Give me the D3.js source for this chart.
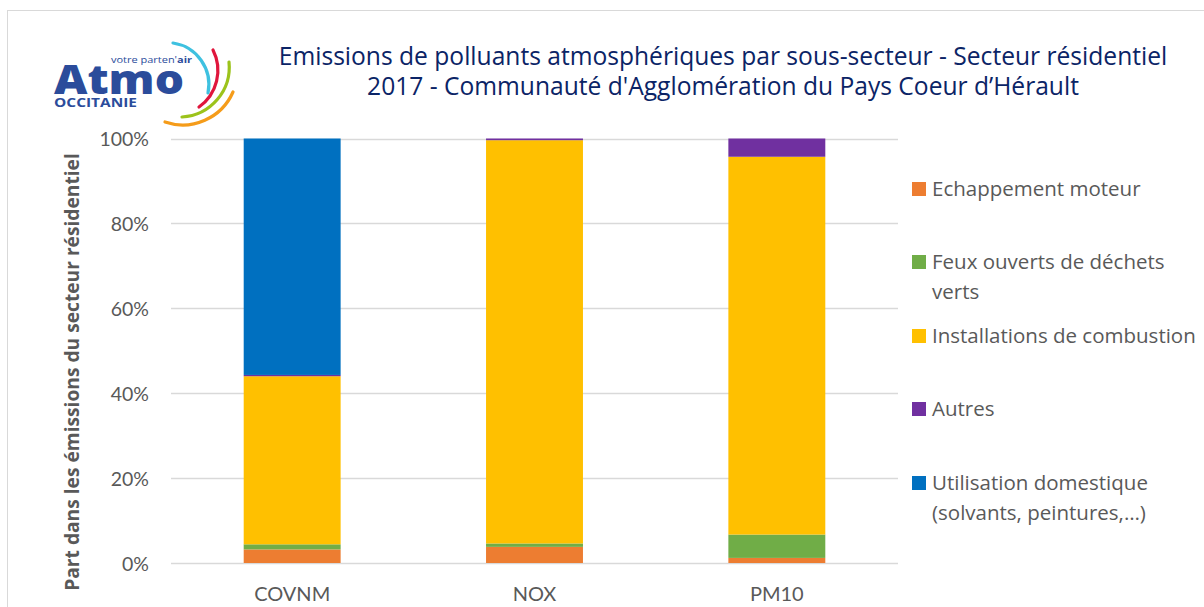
<!DOCTYPE html>
<html><head><meta charset="utf-8">
<script src="https://cdn.jsdelivr.net/npm/d3@7"></script>
<style>
html,body{margin:0;padding:0;background:#fff;}
svg{display:block;}
text{font-family:"Open Sans",sans-serif;}
</style></head>
<body>
<svg id="chart" width="1204" height="607"></svg>
<script>
// ---- data ----
const categories = ["COVNM", "NOX", "PM10"];
const seriesNames = ["Echappement moteur", "Feux ouverts de déchets verts", "Installations de combustion", "Autres", "Utilisation domestique (solvants, peintures,…)"];
const echappement = [3.2, 3.8, 1.2];
const feux = [1.2, 0.8, 5.5];
const installations = [39.6, 95.0, 89.0];
const autres = [0.3, 0.4, 4.3];
const utilisation = [55.7, 0.0, 0.0];
const yTicks = [0, 20, 40, 60, 80, 100];
const legendLines = [["Echappement moteur"], ["Feux ouverts de déchets", "verts"], ["Installations de combustion"], ["Autres"], ["Utilisation domestique", "(solvants, peintures,…)"]];
const colors = ["#ED7D31", "#70AD47", "#FFC000", "#7030A0", "#0070C0"];
const titleLines = ["Emissions de polluants atmosphériques par sous-secteur - Secteur résidentiel", "2017 - Communauté d'Agglomération du Pays Coeur d’Hérault"];
const yTitle = "Part dans les émissions du secteur résidentiel";

const svg = d3.select("#chart");

// frame
svg.append("rect").attr("x", 7.5).attr("y", 10.5).attr("width", 1220).attr("height", 620)
  .attr("fill", "none").attr("stroke", "#d9d9d9").attr("stroke-width", 1);

const seriesArrays = [echappement, feux, installations, autres, utilisation];
const table = categories.map((c, i) => {
  const o = {cat: c};
  seriesNames.forEach((s, k) => o[s] = seriesArrays[k][i]);
  return o;
});
const stacked = d3.stack().keys(seriesNames)(table);

const x = d3.scaleBand().domain(categories).range([171, 898]).paddingInner(0.6).paddingOuter(0.3);
const y = d3.scaleLinear().domain([0, 100]).range([563, 138.5]);

// gridlines
svg.append("g").selectAll("line").data(yTicks).join("line")
  .attr("x1", 171).attr("x2", 898)
  .attr("y1", d => Math.round(y(d)) + 0.5).attr("y2", d => Math.round(y(d)) + 0.5)
  .attr("stroke", "#d9d9d9").attr("stroke-width", 1.5);

// y axis labels
const yAxis = d3.axisLeft(y).tickValues(yTicks).tickFormat(d => d + "%").tickSize(0).tickPadding(0);
const ya = svg.append("g").attr("transform", "translate(149,0)").call(yAxis);
ya.select(".domain").remove();
ya.selectAll("text").attr("fill", "#595959").style("font-size", "19.5px").style("font-family", "Lato, sans-serif").attr("dy", "0.36em");

// bars
svg.append("g").selectAll("g").data(stacked).join("g")
  .attr("fill", (d, i) => colors[i])
  .selectAll("rect").data(d => d).join("rect")
  .attr("x", d => x(d.data.cat))
  .attr("width", x.bandwidth())
  .attr("y", d => y(d[1]))
  .attr("height", d => Math.max(0, y(d[0]) - y(d[1])));

// x axis
const xAxis = d3.axisBottom(x).tickSize(0).tickPadding(0);
const xa = svg.append("g").attr("transform", "translate(0,563)").call(xAxis);
xa.select(".domain").remove();
xa.selectAll("text").attr("fill", "#595959").style("font-size", "20px").style("font-family", "Lato, sans-serif").attr("y", 38).attr("dy", 0);

// y title
svg.append("text").attr("transform", "translate(79,372) rotate(-90)")
  .attr("text-anchor", "middle").attr("fill", "#595959")
  .style("font-size", "19.2px").style("font-weight", "bold").text(yTitle);

// title
svg.append("g").selectAll("text").data(titleLines).join("text")
  .attr("x", 723).attr("y", (d, i) => 65 + i * 30)
  .attr("text-anchor", "middle").attr("fill", "#0b2466")
  .style("font-size", "24.6px").text(d => d);

// legend
const legendY = [189, 262, 336, 409, 483];
const lg = svg.append("g").selectAll("g").data(seriesNames).join("g")
  .attr("transform", (d, i) => `translate(912,${legendY[i]})`);
lg.append("rect").attr("x", 0).attr("y", -7).attr("width", 14).attr("height", 14).attr("fill", (d, i) => colors[i]);
lg.each(function(d, i) {
  const t = d3.select(this).append("text").attr("x", 20).attr("y", 7).attr("fill", "#595959").style("font-size", "20.5px");
  legendLines[i].forEach((ln, j) => t.append("tspan").attr("x", 20).attr("dy", j === 0 ? 0 : 30).text(ln));
});

// logo
const logo = svg.append("g");
const logoArcs = [
  {d: "M173,43 A42,42 0 0 1 208,93", c: "#3ec1e0"},
  {d: "M213,50 A45,45 0 0 1 199,107", c: "#e0163c"},
  {d: "M229,62 A50,50 0 0 1 182,117", c: "#9cc31b"},
  {d: "M233,92 A55,55 0 0 1 165,122", c: "#f59c1a"}
];
logoArcs.forEach(a => {
  logo.append("path").attr("d", a.d).attr("fill", "none").attr("stroke", a.c)
    .attr("stroke-width", 3.2).attr("stroke-linecap", "round");
});
logo.append("text").attr("x", 54).attr("y", 94).attr("fill", "#2b4c9b")
  .attr("textLength", 130).attr("lengthAdjust", "spacingAndGlyphs")
  .style("font-size", "40px").style("font-weight", "800").text("Atmo");
logo.append("text").attr("x", 54).attr("y", 107).attr("fill", "#2b4c9b")
  .attr("textLength", 83).attr("lengthAdjust", "spacingAndGlyphs")
  .style("font-size", "11.5px").style("font-weight", "bold").text("OCCITANIE");
const vt = logo.append("text").attr("x", 111).attr("y", 63).attr("fill", "#2b4c9b")
  .attr("textLength", 81).attr("lengthAdjust", "spacingAndGlyphs").style("font-size", "9.5px");
vt.append("tspan").text("votre parten'");
vt.append("tspan").style("font-weight", "bold").text("air");
</script>
</body></html>
